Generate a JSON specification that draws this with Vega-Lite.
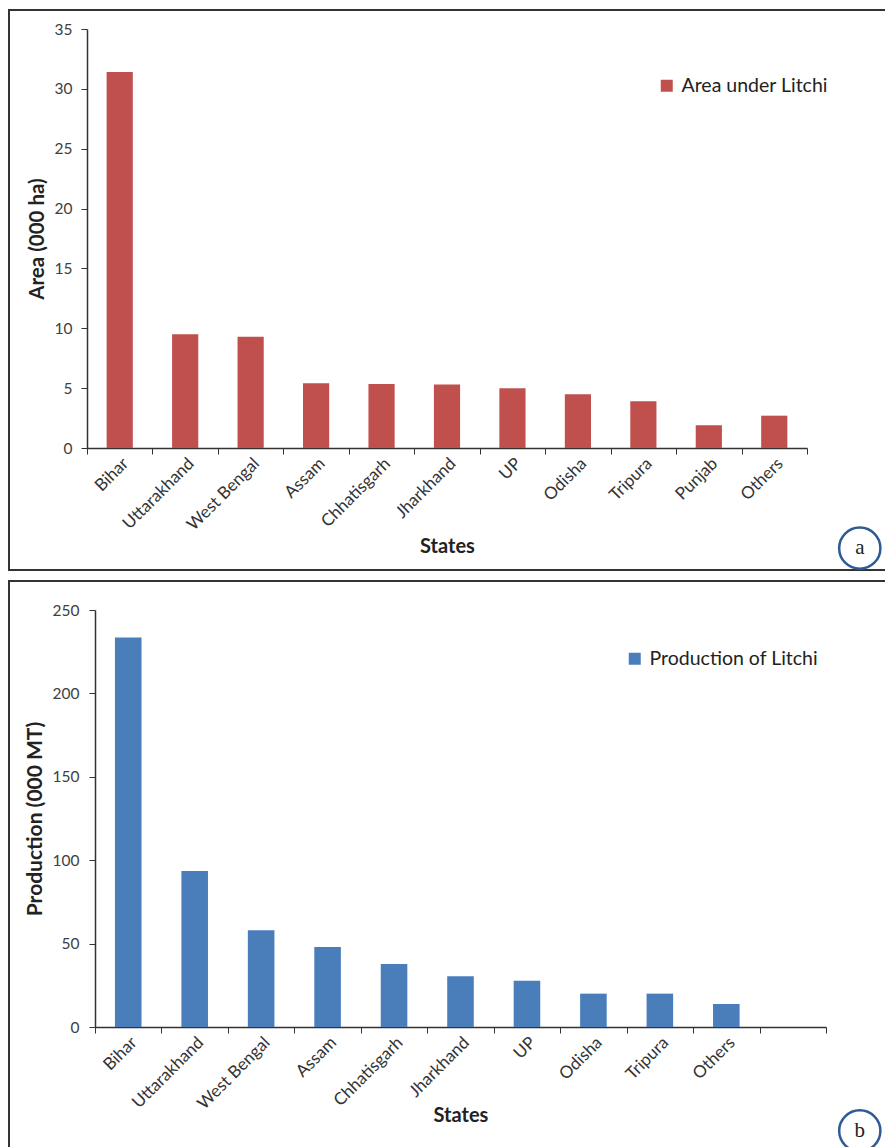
{
  "$schema": "https://vega.github.io/schema/vega-lite/v6.json",
  "padding": {"left": 7, "top": 9, "right": 0, "bottom": 0},
  "bounds": "flush",
  "spacing": 11,
  "config": {"font": "Lato", "background": "white", "view": {"stroke": "#333", "strokeWidth": 2}},
  "resolve": {"scale": {"color": "independent"}},
  "vconcat": [
    {
      "width": 878,
      "height": 560,
      "data": {"values": [
        {"state": "Bihar", "area": 31.4},
        {"state": "Uttarakhand", "area": 9.5},
        {"state": "West Bengal", "area": 9.3},
        {"state": "Assam", "area": 5.4},
        {"state": "Chhatisgarh", "area": 5.35},
        {"state": "Jharkhand", "area": 5.3},
        {"state": "UP", "area": 5.0},
        {"state": "Odisha", "area": 4.5},
        {"state": "Tripura", "area": 3.9},
        {"state": "Punjab", "area": 1.9},
        {"state": "Others", "area": 2.7}
      ]},
      "resolve": {"scale": {"x": "independent", "y": "independent"}},
      "layer": [
        {
          "mark": {"type": "bar", "width": {"band": 0.4}},
          "encoding": {
            "x": {"field": "state", "type": "nominal", "sort": null,
              "scale": {"domain": ["Bihar","Uttarakhand","West Bengal","Assam","Chhatisgarh","Jharkhand","UP","Odisha","Tripura","Punjab","Others"], "range": [78, 798], "paddingInner": 0, "paddingOuter": 0},
              "axis": {"title": "States", "orient": "bottom", "offset": -122, "tickBand": "extent", "labelAngle": -45, "labelAlign": "right", "labelBaseline": "top", "labelPadding": 1, "labelOffset": 0, "tickSize": 6, "tickColor": "#333", "domainColor": "#333", "domainWidth": 1.5, "labelFont": "Lato", "labelFontSize": 17, "labelColor": "#333", "titleFont": "Lato", "titleFontSize": 20, "titleFontWeight": "bold", "titleColor": "#222", "titlePadding": 4, "grid": false}},
            "y": {"field": "area", "type": "quantitative",
              "scale": {"domain": [0, 35], "range": [438, 19], "nice": false},
              "axis": {"title": "Area (000 ha)", "orient": "left", "offset": -78, "values": [0,5,10,15,20,25,30,35], "tickSize": 6, "tickColor": "#333", "domainColor": "#333", "domainWidth": 1.5, "labelPadding": 9, "labelFont": "Lato", "labelFontSize": 15.5, "labelColor": "#404040", "titleFont": "Lato", "titleFontSize": 20.5, "titleFontWeight": "bold", "titleColor": "#222", "titlePadding": 7, "grid": false}},
            "color": {"datum": "Area under Litchi", "scale": {"range": ["#C0504D"]},
              "legend": {"title": null, "orient": "none", "legendX": 648, "legendY": 66, "symbolType": "square", "symbolSize": 144, "symbolStrokeWidth": 0, "symbolOpacity": 1, "labelFont": "Lato", "labelFontSize": 19.5, "labelColor": "#222", "labelOffset": 5, "labelLimit": 400, "padding": 0}}
          }
        },
        {
          "data": {"values": [{"label": "a"}]},
          "mark": {"type": "point", "shape": "circle", "size": 1700, "filled": false, "stroke": "#2F5B95", "strokeWidth": 2.5, "opacity": 1},
          "encoding": {
            "x": {"datum": 0.969, "type": "quantitative", "scale": {"domain": [0, 1]}, "axis": null},
            "y": {"datum": 0.039, "type": "quantitative", "scale": {"domain": [0, 1]}, "axis": null}
          }
        },
        {
          "data": {"values": [{"label": "a"}]},
          "mark": {"type": "text", "font": "Liberation Serif", "fontSize": 21, "color": "#222", "baseline": "middle", "align": "center"},
          "encoding": {
            "x": {"datum": 0.969, "type": "quantitative", "scale": {"domain": [0, 1]}, "axis": null},
            "y": {"datum": 0.039, "type": "quantitative", "scale": {"domain": [0, 1]}, "axis": null},
            "text": {"field": "label"}
          }
        }
      ]
    },
    {
      "width": 878,
      "height": 580,
      "data": {"values": [
        {"state": "Bihar", "production": 233.5},
        {"state": "Uttarakhand", "production": 93.5},
        {"state": "West Bengal", "production": 58},
        {"state": "Assam", "production": 48},
        {"state": "Chhatisgarh", "production": 37.8},
        {"state": "Jharkhand", "production": 30.4},
        {"state": "UP", "production": 27.8},
        {"state": "Odisha", "production": 20},
        {"state": "Tripura", "production": 20},
        {"state": "Others", "production": 13.8}
      ]},
      "resolve": {"scale": {"x": "independent", "y": "independent"}},
      "layer": [
        {
          "mark": {"type": "bar", "width": {"band": 0.4}},
          "encoding": {
            "x": {"field": "state", "type": "nominal", "sort": null,
              "scale": {"domain": ["Bihar","Uttarakhand","West Bengal","Assam","Chhatisgarh","Jharkhand","UP","Odisha","Tripura","Others"," "], "range": [86, 817], "paddingInner": 0, "paddingOuter": 0},
              "axis": {"title": "States", "orient": "bottom", "offset": -134, "tickBand": "extent", "labelAngle": -45, "labelAlign": "right", "labelBaseline": "top", "labelPadding": 1, "labelOffset": 0, "tickSize": 6, "tickColor": "#333", "domainColor": "#333", "domainWidth": 1.5, "labelFont": "Lato", "labelFontSize": 17, "labelColor": "#333", "titleFont": "Lato", "titleFontSize": 20, "titleFontWeight": "bold", "titleColor": "#222", "titlePadding": -6, "grid": false}},
            "y": {"field": "production", "type": "quantitative",
              "scale": {"domain": [0, 250], "range": [446, 29], "nice": false},
              "axis": {"title": "Production (000 MT)", "orient": "left", "offset": -86, "values": [0,50,100,150,200,250], "tickSize": 6, "tickColor": "#333", "domainColor": "#333", "domainWidth": 1.5, "labelPadding": 10, "labelFont": "Lato", "labelFontSize": 15.5, "labelColor": "#404040", "titleFont": "Lato", "titleFontSize": 21, "titleFontWeight": "bold", "titleColor": "#222", "titlePadding": 7, "grid": false}},
            "color": {"datum": "Production of Litchi", "scale": {"range": ["#4A7EBB"]},
              "legend": {"title": null, "orient": "none", "legendX": 616, "legendY": 68, "symbolType": "square", "symbolSize": 144, "symbolStrokeWidth": 0, "symbolOpacity": 1, "labelFont": "Lato", "labelFontSize": 19.5, "labelColor": "#222", "labelOffset": 5, "labelLimit": 400, "padding": 0}}
          }
        },
        {
          "data": {"values": [{"label": "b"}]},
          "mark": {"type": "point", "shape": "circle", "size": 1700, "filled": false, "stroke": "#2F5B95", "strokeWidth": 2.5, "opacity": 1},
          "encoding": {
            "x": {"datum": 0.969, "type": "quantitative", "scale": {"domain": [0, 1]}, "axis": null},
            "y": {"datum": 0.052, "type": "quantitative", "scale": {"domain": [0, 1]}, "axis": null}
          }
        },
        {
          "data": {"values": [{"label": "b"}]},
          "mark": {"type": "text", "font": "Liberation Serif", "fontSize": 21, "color": "#222", "baseline": "middle", "align": "center"},
          "encoding": {
            "x": {"datum": 0.969, "type": "quantitative", "scale": {"domain": [0, 1]}, "axis": null},
            "y": {"datum": 0.052, "type": "quantitative", "scale": {"domain": [0, 1]}, "axis": null},
            "text": {"field": "label"}
          }
        }
      ]
    }
  ]
}
